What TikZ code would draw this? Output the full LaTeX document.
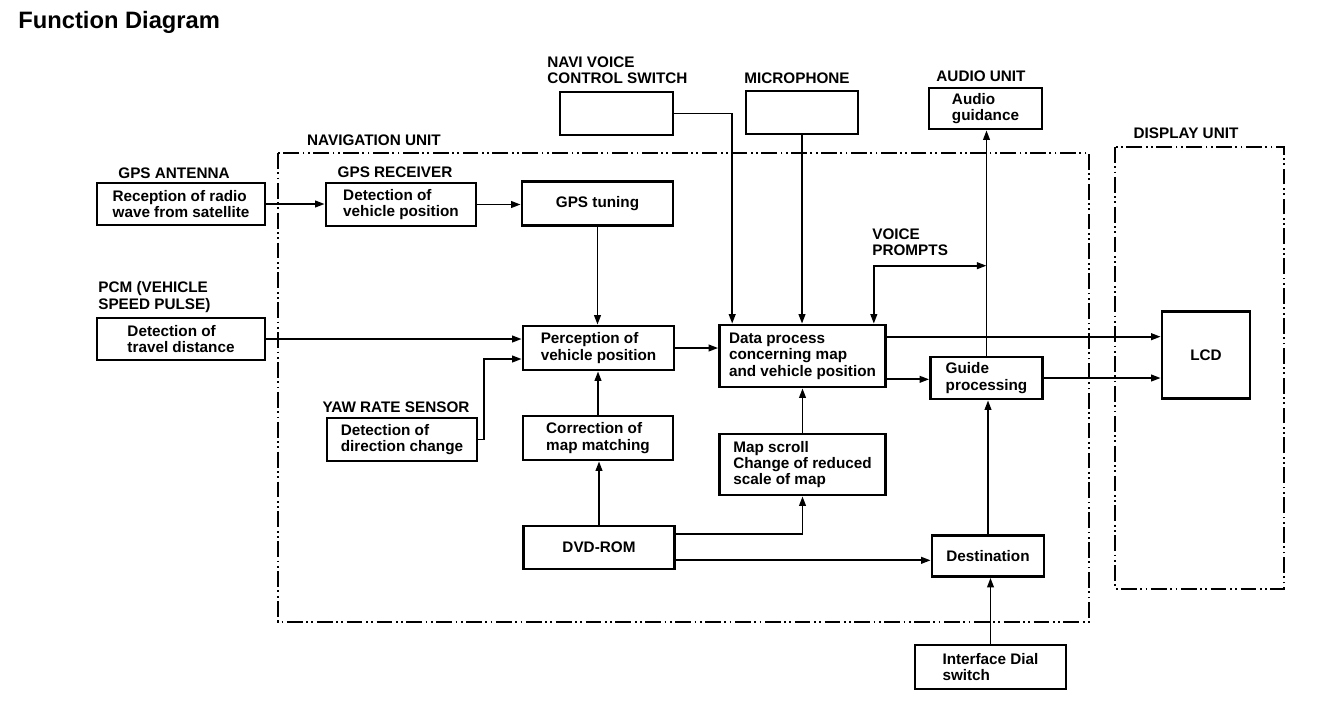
\documentclass[tikz,border=0pt]{standalone}
\usepackage{fontspec}
\setmainfont{Liberation Sans}
\usetikzlibrary{arrows.meta, calc}
\newcommand{\bxfont}{\fontsize{8.7}{9.3}\selectfont\bfseries}
\tikzset{
  % a function block
  bx/.style   = {draw, line width=1.5pt, align=left, font=\bxfont,
                 inner sep=0pt},
  % block size, in pixels of the sheet
  sz/.style 2 args = {minimum width=#1*0.02cm, minimum height=#2*0.02cm},
  % a unit name above a block
  tag/.style  = {font=\bxfont, align=left, inner sep=0pt},
  % a signal
  ar/.style   = {-{Triangle[length=5.5pt,width=3.8pt]}, line width=1.1pt},
  % a signal both ways
  arr/.style  = {{Triangle[length=5.5pt,width=3.8pt]}-{Triangle[length=5.5pt,width=3.8pt]},
                 line width=1.1pt},
  % the dash-dot outline of a unit
  unit/.style = {draw, line width=0.9pt,
                 dash pattern=on 9pt off 2pt on 1pt off 2pt on 1pt off 2pt},
}

\begin{document}
\begin{tikzpicture}[x=0.02cm, y=-0.02cm]
  \useasboundingbox (0,0) rectangle (1328,708);
  \node[anchor=west, inner sep=0pt, font=\fontsize{13.5}{14}\selectfont\bfseries]
        (title) at (18,22) {Function Diagram};

  % unit outlines
  \draw[unit] (278,153) rectangle (1089,622);
  \draw[unit] (1115,147) rectangle (1284,589);

  % labels
  \node[tag] (lnav) at (374,140) {NAVIGATION UNIT};
  \node[tag] (lant) at (174,173) {GPS ANTENNA};
  \node[tag] (lrcv) at (395,172) {GPS RECEIVER};
  \node[tag, anchor=west] (lnvs) at (547,70) {NAVI VOICE\\CONTROL SWITCH};
  \node[tag] (lmic) at (797,78) {MICROPHONE};
  \node[tag] (laud) at (981,76) {AUDIO UNIT};
  \node[tag] (ldsp) at (1186,133) {DISPLAY UNIT};
  \node[tag, anchor=west] (lpcm) at (98,297) {PCM (VEHICLE\\SPEED PULSE)};
  \node[tag, anchor=west] (lvp) at (872,242) {VOICE\\PROMPTS};
  \node[tag] (lyaw) at (396,407) {YAW RATE SENSOR};

  % blocks
  \node[bx, sz={168}{42}] (ant) at (181,204)   {Reception of radio\\wave from satellite};
  \node[bx, sz={150}{43}] (rcv) at (401,204.5) {Detection of\\vehicle position};
  \node[bx, sz={151}{44}] (tun) at (597.5,203.5) {GPS tuning};
  \node[bx, sz={113}{43}] (nvs) at (616.5,113.5) {};
  \node[bx, sz={112}{43}] (mic) at (802,112.5) {};
  \node[bx, sz={113}{41}] (aud) at (985.5,108.5) {Audio\\guidance};
  \node[bx, sz={168}{42}] (pcm) at (181,339)   {Detection of\\travel distance};
  \node[bx, sz={151}{44}] (per) at (598.5,348) {Perception of\\vehicle position};
  \node[bx, sz={166}{62}] (dat) at (802.5,356) {Data process\\concerning map\\and vehicle position};
  \node[bx, sz={112}{42}] (gui) at (986.5,378) {Guide\\processing};
  \node[bx, sz={88}{87}]  (lcd) at (1206,355)  {LCD};
  \node[bx, sz={150}{43}] (yaw) at (402,439.5) {Detection of\\direction change};
  \node[bx, sz={150}{44}] (cor) at (598,438)   {Correction of\\map matching};
  \node[bx, sz={166}{61}] (map) at (802.5,464.5) {Map scroll\\Change of reduced\\scale of map};
  \node[bx, sz={151}{43}] (dvd) at (599,547.5) {DVD-ROM};
  \node[bx, sz={112}{41}] (dst) at (988,556)   {Destination};
  \node[bx, sz={151}{44}] (ifd) at (990.5,667) {Interface Dial\\switch};

  % tap points on the block sides
  \coordinate (yawr) at ($(yaw.east)+(6,0)$);
  \coordinate (perl) at ($(per.west)+(0,11)$);
  \coordinate (datu) at ($(dat.north east)+(0,13)$);
  \coordinate (datd) at ($(dat.south east)+(0,-9)$);
  \coordinate (datp) at ($(dat.north east)+(-13,0)$);
  \coordinate (vp)   at ($(gui.north)+(0,-90)$);
  \coordinate (dvdu) at ($(dvd.north east)+(0,9)$);
  \coordinate (dvdd) at ($(dvd.south east)+(0,-10)$);

  % signals
  \draw[ar] (ant.east) -- (ant.east -| rcv.west);
  \draw[ar] (rcv.east) -- (rcv.east -| tun.west);
  \draw[ar] (tun.south) -- (tun.south |- per.north);
  \draw[ar] (pcm.east) -- (pcm.east -| per.west);
  \draw[ar] (yaw.east) -- (yawr) |- (perl);
  \draw[ar] (cor.north) -- (cor.north |- per.south);
  \draw[ar] (dvd.north) -- (dvd.north |- cor.south);
  \draw[ar] (per.east) -- (per.east -| dat.west);
  \draw[ar] (nvs.east) -| ($(dat.north west)+(14,0)$);
  \draw[ar] (mic.south) -- (mic.south |- dat.north);
  \draw[ar] (gui.north) -- (gui.north |- aud.south);
  \draw[arr] (datp) |- (vp);
  \draw[ar] (datu) -- (datu -| lcd.west);
  \draw[ar] (datd) -- (datd -| gui.west);
  \draw[ar] (gui.east) -- (gui.east -| lcd.west);
  \draw[ar] (map.north) -- (map.north |- dat.south);
  \draw[ar] (dvdu) -| (map.south);
  \draw[ar] (dvdd) -- (dvdd -| dst.west);
  \draw[ar] (dst.north) -- (dst.north |- gui.south);
  \draw[ar] (ifd.north) -- (ifd.north |- dst.south);
\end{tikzpicture}
\end{document}
